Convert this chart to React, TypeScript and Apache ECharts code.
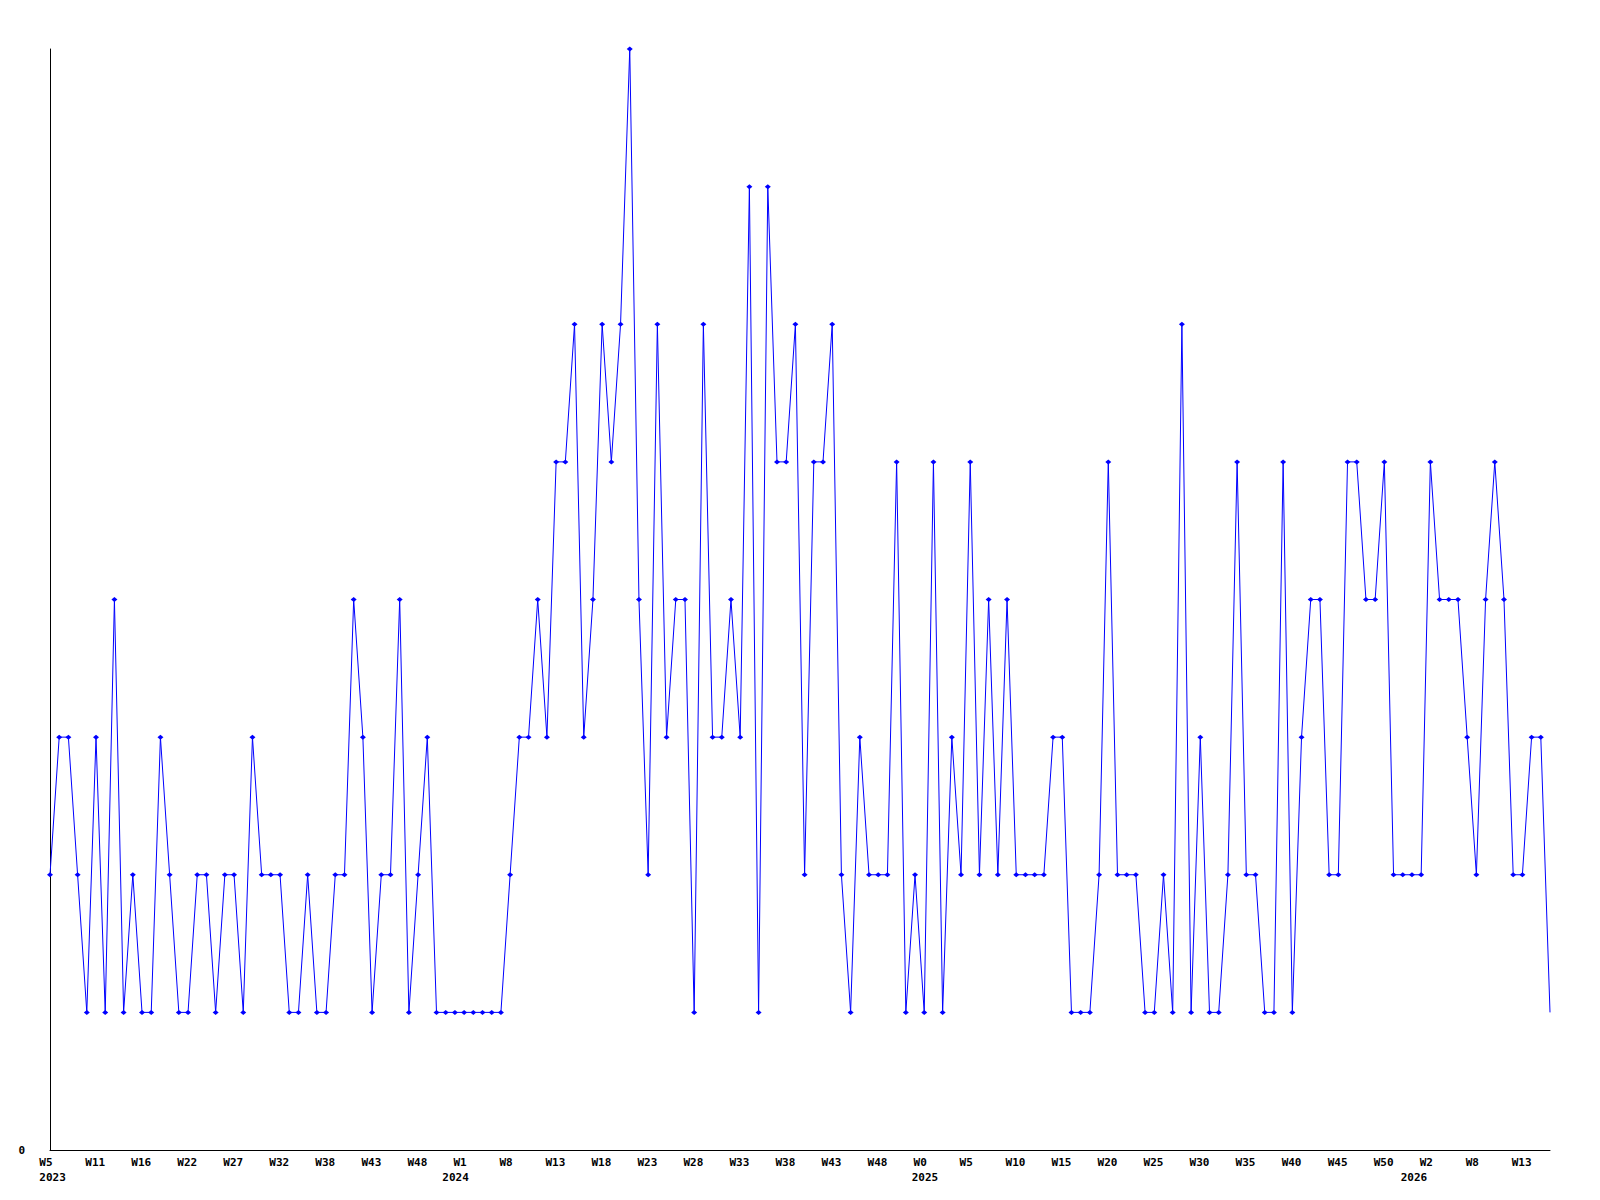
import React, { useEffect, useRef } from "react";
import * as echarts from "echarts";

// Weekly values, one per point (164 points)
const values: number[] = [
  2, 3, 3, 2, 1, 3, 1, 4, 1, 2,
  1, 1, 3, 2, 1, 1, 2, 2, 1, 2,
  2, 1, 3, 2, 2, 2, 1, 1, 2, 1,
  1, 2, 2, 4, 3, 1, 2, 2, 4, 1,
  2, 3, 1, 1, 1, 1, 1, 1, 1, 1,
  2, 3, 3, 4, 3, 5, 5, 6, 3, 4,
  6, 5, 6, 8, 4, 2, 6, 3, 4, 4,
  1, 6, 3, 3, 4, 3, 7, 1, 7, 5,
  5, 6, 2, 5, 5, 6, 2, 1, 3, 2,
  2, 2, 5, 1, 2, 1, 5, 1, 3, 2,
  5, 2, 4, 2, 4, 2, 2, 2, 2, 3,
  3, 1, 1, 1, 2, 5, 2, 2, 2, 1,
  1, 2, 1, 6, 1, 3, 1, 1, 2, 5,
  2, 2, 1, 1, 5, 1, 3, 4, 4, 2,
  2, 5, 5, 4, 4, 5, 2, 2, 2, 2,
  5, 4, 4, 4, 3, 2, 4, 5, 4, 2,
  2, 3, 3, 1,
];

// Tick labels, one every 5 points
const tickLabels: string[] = [
  "W5", "W11", "W16", "W22", "W27", "W32", "W38", "W43", "W48", "W1",
  "W8", "W13", "W18", "W23", "W28", "W33", "W38", "W43", "W48", "W0",
  "W5", "W10", "W15", "W20", "W25", "W30", "W35", "W40", "W45", "W50",
  "W2", "W8", "W13",
];

// Year labels placed under specific tick labels (index into tickLabels)
const yearTickIndex: number[] = [0, 9, 19, 30];
const yearLabels: string[] = ["2023", "2024", "2025", "2026"];

// --- styling constants (not data) ---
const TICK_STEP = 5;
const FONT = "'DejaVu Sans Mono', 'Liberation Mono', monospace";
const FONT_SIZE = 11;
const CHAR_W = FONT_SIZE * 0.602;
const LABEL_START = -10.7; // text starts this far left of its tick
const YEAR_START = [-10.7, -21.8, -12.5, -29.7];

function padFor(len: number, start: number): number[] {
  const d = 2 * start + len * CHAR_W;
  return d >= 0 ? [0, 0, 0, d] : [0, -d, 0, 0];
}

const baseText = {
  fontFamily: FONT,
  fontWeight: "bold",
  fontSize: FONT_SIZE,
  color: "#000000",
  lineHeight: 15,
};

export default function App() {
  const ref = useRef<HTMLDivElement>(null);

  useEffect(() => {
    if (!ref.current) return;
    const chart = echarts.init(ref.current, undefined, { renderer: "svg" });

    const categories = values.map((_, i) => String(i));

    const rich: Record<string, any> = {};
    for (let n = 1; n <= 4; n++) {
      rich["w" + n] = { ...baseText, padding: padFor(n, LABEL_START) };
    }
    yearLabels.forEach((y, k) => {
      rich["y" + k] = { ...baseText, padding: padFor(y.length, YEAR_START[k]) };
    });

    chart.setOption({
      animation: false,
      backgroundColor: "#ffffff",
      grid: { left: 50, right: 50, top: 49, bottom: 50, containLabel: false },
      xAxis: {
        type: "category",
        data: categories,
        boundaryGap: false,
        axisLine: { show: true, lineStyle: { color: "#000000", width: 1 } },
        axisTick: { show: false },
        splitLine: { show: false },
        axisLabel: {
          interval: TICK_STEP - 1,
          margin: 5,
          ...baseText,
          align: "center",
          rich,
          formatter: (_v: string, idx: number) => {
            const t = Math.round(idx / TICK_STEP);
            const lbl = tickLabels[t] ?? "";
            let s = `{w${lbl.length}|${lbl}}`;
            const yi = yearTickIndex.indexOf(t);
            if (yi >= 0) s += `\n{y${yi}|${yearLabels[yi]}}`;
            return s;
          },
        },
      },
      yAxis: {
        type: "value",
        min: 0,
        max: 8,
        interval: 8,
        axisLine: { show: true, lineStyle: { color: "#000000", width: 1 } },
        axisTick: { show: false },
        splitLine: { show: false },
        axisLabel: {
          margin: 25,
          color: "#000000",
          fontFamily: FONT,
          fontWeight: "bold",
          fontSize: FONT_SIZE,
          formatter: (v: number) => (v === 0 ? "0" : ""),
        },
      },
      series: [
        {
          type: "line",
          data: values,
          color: "#0000ff",
          lineStyle: { color: "#0000ff", width: 1 },
          itemStyle: { color: "#0000ff" },
          symbol: (_val: any, params: any) =>
            params.dataIndex === values.length - 1 ? "none" : "diamond",
          symbolSize: [6, 5],
          showAllSymbol: true,
          emphasis: { disabled: true },
        },
      ],
    });

    return () => chart.dispose();
  }, []);

  return (
    <div
      ref={ref}
      style={{ position: "absolute", left: 0, top: 0, width: 1600, height: 1200 }}
    />
  );
}
